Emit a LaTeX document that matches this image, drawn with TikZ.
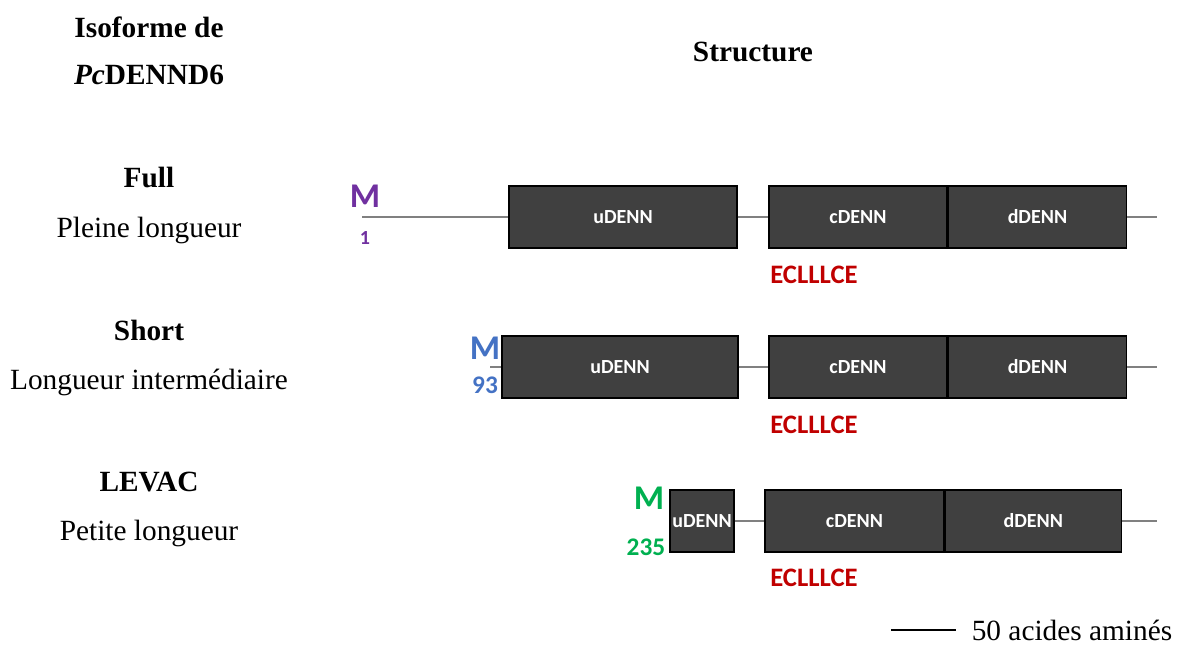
\documentclass[tikz,border=0pt]{standalone}
\usepackage{fontspec}
\setmainfont{Liberation Serif}
\newfontfamily\calib{Carlito}
\usepackage{xcolor}
\definecolor{Mviolet}{RGB}{112,48,160}
\definecolor{Mbleu}{RGB}{68,114,196}
\definecolor{Mvert}{RGB}{0,176,80}
\definecolor{Mrouge}{RGB}{192,0,0}
\definecolor{Mgris}{RGB}{64,64,64}
\usetikzlibrary{positioning}

\begin{document}
\begin{tikzpicture}[
  x=0.75pt, y=-0.75pt,
  dom/.style={
    rectangle, draw=black, fill=Mgris, line width=1.1pt,
    text=white, font=\calib\bfseries\fontsize{15}{17}\selectfont,
    minimum height=46.5pt, inner sep=0pt
  },
  chaine/.style={draw=black!50, line width=0.9pt},
  titre/.style={font=\bfseries\fontsize{22}{26}\selectfont},
  sous/.style={font=\fontsize{22}{26}\selectfont},
  met/.style={font=\calib\bfseries\fontsize{26}{28}\selectfont, text=#1},
  pos/.style={font=\calib\bfseries\fontsize{19}{21}\selectfont, text=#1},
  motif/.style={font=\calib\bfseries\fontsize{20}{22}\selectfont, text=Mrouge}
]
\useasboundingbox (0,0) rectangle (1183,646);

%% ── Titres ──
\node[titre] (iso) at (149,27) {Isoforme de};
\node[titre] (pc) at (149,75) {\textit{Pc}DENND6};
\node[titre] (struct) at (753,52) {Structure};

%% ── Noms des isoformes ──
\node[titre] (full) at (149,178) {Full};
\node[sous] (fullsub) at (149,230) {Pleine longueur};
\node[titre] (short) at (149,330) {Short};
\node[sous] (shortsub) at (149,382) {Longueur intermédiaire};
\node[titre] (levac) at (149,482) {LEVAC};
\node[sous] (levacsub) at (149,533) {Petite longueur};

%% ── Full ──
\coordinate (deb1) at (362,217);
\coordinate (fin1) at (1157,217);
\node[dom, minimum width=171pt] (ud1) at (623,217) {uDENN};
\node[dom, minimum width=133.5pt] (cd1) at (858,217) {cDENN};
\node[dom, minimum width=133.5pt, right=0pt of cd1] (dd1) {dDENN};
\node[met=Mviolet] (m1) at (365,196) {M};
\node[pos=Mviolet, font=\calib\bfseries\fontsize{15}{17}\selectfont] (n1) at (365,238) {1};
\node[motif] (ecl1) at (814,275) {ECLLLCE};
\draw[chaine] (deb1) -- (ud1.west);
\draw[chaine] (ud1.east) -- (cd1.west);
\draw[chaine] (dd1.east) -- (fin1);

%% ── Short ──
\coordinate (deb2) at (490,367);
\coordinate (fin2) at (1157,367);
\node[dom, minimum width=177pt] (ud2) at (620,367) {uDENN};
\node[dom, minimum width=133.5pt] (cd2) at (858,367) {cDENN};
\node[dom, minimum width=133.5pt, right=0pt of cd2] (dd2) {dDENN};
\node[met=Mbleu] (m2) at (485,348) {M};
\node[pos=Mbleu] (n2) at (485,385) {93};
\node[motif] (ecl2) at (814,425) {ECLLLCE};
\draw[chaine] (deb2) -- (ud2.west);
\draw[chaine] (ud2.east) -- (cd2.west);
\draw[chaine] (dd2.east) -- (fin2);

%% ── LEVAC ──
\coordinate (fin3) at (1157,521);
\node[dom, minimum width=48pt] (ud3) at (702,521) {uDENN};
\node[dom, minimum width=134pt] (cd3) at (854.5,521) {cDENN};
\node[dom, minimum width=132pt, right=0pt of cd3] (dd3) {dDENN};
\node[met=Mvert] (m3) at (649,498) {M};
\node[pos=Mvert] (n3) at (646,547) {235};
\node[motif] (ecl3) at (814,578) {ECLLLCE};
\draw[chaine] (ud3.east) -- (cd3.west);
\draw[chaine] (dd3.east) -- (fin3);

%% ── Echelle ──
\coordinate (ech1) at (891,630);
\coordinate (ech2) at (956,630);
\draw[line width=0.9pt] (ech1) -- (ech2);
\node[sous, inner sep=1pt] (echlab) at (1072,630) {50 acides aminés};

\end{tikzpicture}
\end{document}
